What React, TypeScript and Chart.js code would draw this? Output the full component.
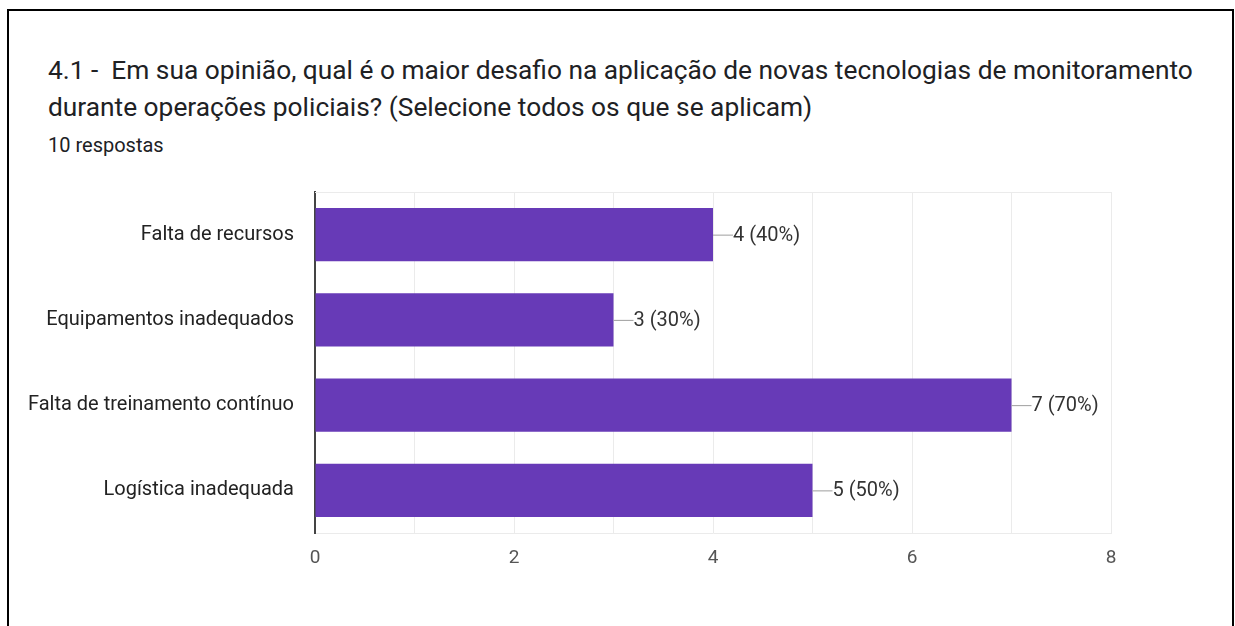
import React, { useEffect, useRef } from "react";
import { Chart, registerables } from "chart.js";

Chart.register(...registerables);

const categories = [
  "Falta de recursos",
  "Equipamentos inadequados",
  "Falta de treinamento contínuo",
  "Logística inadequada",
];
const counts = [4, 3, 7, 5];
const percents = ["40%", "30%", "70%", "50%"];
const xTicks = [0, 2, 4, 6, 8];
const titleLine1 =
  "4.1 -  Em sua opinião, qual é o maior desafio na aplicação de novas tecnologias de monitoramento";
const titleLine2 = "durante operações policiais? (Selecione todos os que se aplicam)";
const subtitle = "10 respostas";

const FONT = "Roboto, 'Noto Sans', Arial, sans-serif";

const labelPlugin = {
  id: "barLabels",
  afterDatasetsDraw(chart: any) {
    const ctx = chart.ctx;
    const meta = chart.getDatasetMeta(0);
    ctx.save();
    meta.data.forEach((bar: any, i: number) => {
      const x = bar.x;
      const y = bar.y;
      ctx.strokeStyle = "#9e9e9e";
      ctx.lineWidth = 1;
      ctx.beginPath();
      ctx.moveTo(x, y + 0.5);
      ctx.lineTo(x + 20, y + 0.5);
      ctx.stroke();
      ctx.fillStyle = "#333333";
      ctx.font = `20px ${FONT}`;
      ctx.textAlign = "left";
      ctx.textBaseline = "middle";
      ctx.fillText(`${counts[i]} (${percents[i]})`, x + 20, y + 1);
    });
    ctx.restore();
  },
};

const framePlugin = {
  id: "frame",
  beforeDatasetsDraw(chart: any) {
    const { ctx, chartArea } = chart;
    ctx.save();
    ctx.strokeStyle = "#ebebeb";
    ctx.lineWidth = 1;
    ctx.beginPath();
    ctx.moveTo(chartArea.left, chartArea.top + 0.5);
    ctx.lineTo(chartArea.right, chartArea.top + 0.5);
    ctx.stroke();
    ctx.restore();
  },
};

function BarChart() {
  const ref = useRef<HTMLCanvasElement | null>(null);
  useEffect(() => {
    if (!ref.current) return;
    const chart = new Chart(ref.current, {
      type: "bar",
      data: {
        labels: categories,
        datasets: [
          {
            data: counts,
            backgroundColor: "#673ab7",
            borderWidth: 0,
            categoryPercentage: 1,
            barPercentage: 0.625,
          },
        ],
      },
      options: {
        indexAxis: "y",
        animation: false,
        responsive: false,
        maintainAspectRatio: false,
        layout: { padding: { left: 0, right: 124, top: 192, bottom: 0 } },
        plugins: {
          legend: { display: false },
          tooltip: { enabled: false },
          title: { display: false },
        },
        scales: {
          x: {
            min: 0,
            max: 8,
            ticks: {
              stepSize: 1,
              color: "#555555",
              font: { family: FONT, size: 19 },
              padding: 14,
              callback: (v: any) => (xTicks.includes(Number(v)) ? String(v) : ""),
            },
            grid: { color: "#ebebeb", lineWidth: 1, drawTicks: false },
            border: { color: "#ebebeb", width: 1 },
            afterFit: (s: any) => {
              s.height = 93;
            },
          },
          y: {
            ticks: {
              color: "#222222",
              font: { family: FONT, size: 20 },
              padding: 21,
            },
            grid: { display: false, drawTicks: false },
            border: { color: "#444444", width: 2 },
            afterFit: (s: any) => {
              s.width = 315;
            },
          },
        },
      },
      plugins: [framePlugin, labelPlugin],
    });
    return () => chart.destroy();
  }, []);
  return (
    <canvas
      ref={ref}
      width={1235}
      height={626}
      style={{ position: "absolute", left: 0, top: 0, width: 1235, height: 626 }}
    />
  );
}

export default function App() {
  return (
    <div
      style={{
        position: "fixed",
        left: 0,
        top: 0,
        width: 1235,
        height: 626,
        overflow: "hidden",
        background: "#ffffff",
      }}
    >
      <div
        style={{
          position: "absolute",
          left: 7,
          top: 9,
          width: 1223,
          height: 700,
          border: "2px solid #000",
        }}
      />
      <div
        style={{
          position: "absolute",
          left: 48,
          top: 52,
          fontFamily: FONT,
          fontSize: 26.3,
          lineHeight: "37px",
          color: "#202124",
          whiteSpace: "pre",
        }}
      >
        {titleLine1}
        <br />
        {titleLine2}
      </div>
      <div
        style={{
          position: "absolute",
          left: 48,
          top: 133,
          fontFamily: FONT,
          fontSize: 20,
          lineHeight: "24px",
          color: "#202124",
        }}
      >
        {subtitle}
      </div>
      <BarChart />
    </div>
  );
}
